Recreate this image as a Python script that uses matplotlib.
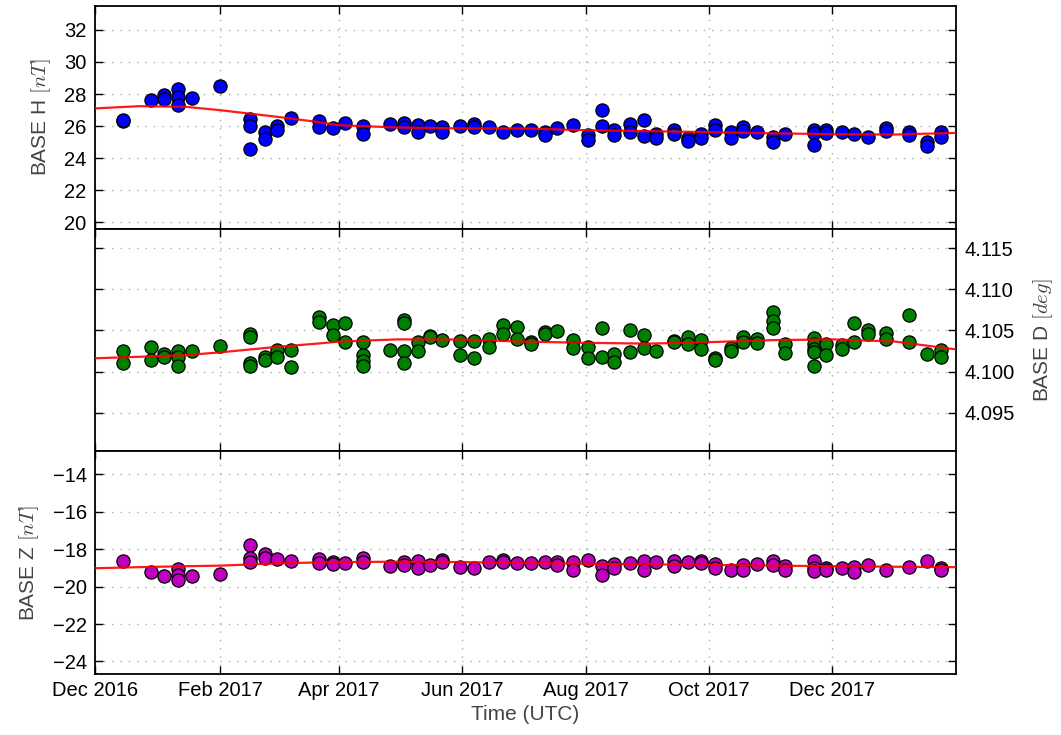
import numpy as np
import pandas as pd
import matplotlib
matplotlib.use("Agg")
import matplotlib.pyplot as plt
import matplotlib.dates as mdates
from matplotlib.ticker import FuncFormatter

plt.rcParams['font.family'] = ['Liberation Sans', 'DejaVu Sans']
plt.rcParams['mathtext.fontset'] = 'cm'

# ---------------- data ----------------
h_dates = ["2016-12-15", "2016-12-15", "2016-12-29", "2017-01-04", "2017-01-04",
           "2017-01-11", "2017-01-11", "2017-01-11", "2017-01-18", "2017-02-01",
           "2017-02-16", "2017-02-16", "2017-02-16", "2017-02-23", "2017-02-23",
           "2017-03-01", "2017-03-01", "2017-03-08", "2017-03-22", "2017-03-22",
           "2017-03-29", "2017-04-04", "2017-04-13", "2017-04-13", "2017-04-26",
           "2017-05-03", "2017-05-03", "2017-05-10", "2017-05-10", "2017-05-16",
           "2017-05-22", "2017-05-22", "2017-05-31", "2017-06-07", "2017-06-07",
           "2017-06-14", "2017-06-21", "2017-06-28", "2017-07-05",
           "2017-07-12", "2017-07-12", "2017-07-18", "2017-07-26", "2017-08-02",
           "2017-08-02", "2017-08-09", "2017-08-09", "2017-08-15", "2017-08-15",
           "2017-08-23", "2017-08-23", "2017-08-30", "2017-08-30", "2017-09-05",
           "2017-09-05", "2017-09-14", "2017-09-14", "2017-09-21", "2017-09-21",
           "2017-09-27", "2017-09-27", "2017-10-04", "2017-10-04", "2017-10-12",
           "2017-10-12", "2017-10-18", "2017-10-18", "2017-10-25", "2017-11-02",
           "2017-11-02", "2017-11-08", "2017-11-22", "2017-11-22", "2017-11-22",
           "2017-11-28", "2017-11-28", "2017-12-06", "2017-12-12", "2017-12-19",
           "2017-12-28", "2017-12-28", "2018-01-08", "2018-01-08", "2018-01-17",
           "2018-01-17", "2018-01-24", "2018-01-24"]
h_vals = [26.33, 26.36, 27.62, 27.93, 27.66,
          28.29, 27.83, 27.31, 27.72, 28.50,
          26.47, 25.99, 24.55, 25.64, 25.22,
          25.99, 25.74, 26.53, 26.33, 25.95,
          25.85, 26.16, 25.99, 25.49, 26.12,
          26.20, 25.91, 26.05, 25.64, 25.99,
          25.95, 25.64, 25.99, 26.12, 25.95,
          25.91, 25.64, 25.78, 25.74,
          25.64, 25.43, 25.85, 26.05, 25.43,
          25.11, 26.99, 25.99, 25.74, 25.47,
          26.12, 25.64, 26.37, 25.37, 25.53,
          25.28, 25.74, 25.53, 25.28, 25.07,
          25.53, 25.26, 26.09, 25.74, 25.64,
          25.28, 25.95, 25.70, 25.64, 25.32,
          25.01, 25.53, 25.74, 25.57, 24.80,
          25.78, 25.57, 25.64, 25.49, 25.32,
          25.89, 25.70, 25.64, 25.43, 25.01,
          24.74, 25.64, 25.32]

d_dates = ["2016-12-15", "2016-12-15", "2016-12-29", "2016-12-29", "2017-01-04",
           "2017-01-04", "2017-01-11", "2017-01-11", "2017-01-11", "2017-01-18",
           "2017-02-01", "2017-02-16", "2017-02-16", "2017-02-16", "2017-02-16",
           "2017-02-23", "2017-02-23", "2017-03-01", "2017-03-01", "2017-03-08",
           "2017-03-08", "2017-03-22", "2017-03-22", "2017-03-29", "2017-03-29",
           "2017-04-04", "2017-04-04", "2017-04-13", "2017-04-13", "2017-04-13",
           "2017-04-13", "2017-04-26", "2017-05-03", "2017-05-03", "2017-05-03",
           "2017-05-03", "2017-05-10", "2017-05-10", "2017-05-16", "2017-05-16",
           "2017-05-22", "2017-05-31", "2017-05-31", "2017-06-07", "2017-06-07",
           "2017-06-14", "2017-06-14", "2017-06-21", "2017-06-21", "2017-06-28",
           "2017-06-28", "2017-07-05", "2017-07-05", "2017-07-12", "2017-07-12",
           "2017-07-18", "2017-07-26", "2017-07-26", "2017-08-02", "2017-08-02",
           "2017-08-09", "2017-08-09", "2017-08-15", "2017-08-15", "2017-08-23",
           "2017-08-23", "2017-08-30", "2017-08-30", "2017-09-05", "2017-09-14",
           "2017-09-14", "2017-09-21", "2017-09-21", "2017-09-27", "2017-09-27",
           "2017-10-04", "2017-10-04", "2017-10-12", "2017-10-12", "2017-10-18",
           "2017-10-18", "2017-10-25", "2017-10-25", "2017-11-02", "2017-11-02",
           "2017-11-02", "2017-11-08", "2017-11-08", "2017-11-22", "2017-11-22",
           "2017-11-22", "2017-11-22", "2017-11-22", "2017-11-28", "2017-11-28",
           "2017-12-06", "2017-12-06", "2017-12-12", "2017-12-12", "2017-12-19",
           "2017-12-19", "2017-12-28", "2017-12-28", "2018-01-08", "2018-01-08",
           "2018-01-17", "2018-01-24", "2018-01-24"]
d_vals = [4.10255, 4.10101, 4.10295, 4.10141, 4.10214,
          4.10182, 4.10255, 4.10174, 4.10073, 4.10255,
          4.10315, 4.10457, 4.10416, 4.10101, 4.10073,
          4.10182, 4.10141, 4.10263, 4.10182, 4.10263,
          4.10053, 4.10667, 4.10598, 4.10570, 4.10444,
          4.10586, 4.10356, 4.10356, 4.10206, 4.10125,
          4.10073, 4.10263, 4.10626, 4.10586, 4.10246,
          4.10101, 4.10356, 4.10246, 4.10436, 4.10416,
          4.10384, 4.10376, 4.10202, 4.10376, 4.10162,
          4.10396, 4.10303, 4.10566, 4.10457, 4.10537,
          4.10396, 4.10356, 4.10335, 4.10477, 4.10457,
          4.10489, 4.10384, 4.10287, 4.10295, 4.10162,
          4.10525, 4.10182, 4.10214, 4.10113, 4.10505,
          4.10234, 4.10448, 4.10287, 4.10255, 4.10376,
          4.10356, 4.10424, 4.10335, 4.10384, 4.10275,
          4.10162, 4.10141, 4.10287, 4.10246, 4.10424,
          4.10356, 4.10396, 4.10343, 4.10731, 4.10610,
          4.10529, 4.10335, 4.10226, 4.10408, 4.10335,
          4.10275, 4.10234, 4.10073, 4.10335, 4.10206,
          4.10327, 4.10275, 4.10586, 4.10356, 4.10505,
          4.10457, 4.10465, 4.10396, 4.10691, 4.10356,
          4.10214, 4.10263, 4.10182]

z_dates = ["2016-12-15", "2016-12-29", "2017-01-04", "2017-01-11", "2017-01-11",
           "2017-01-11", "2017-01-18", "2017-02-01", "2017-02-16", "2017-02-16",
           "2017-02-16", "2017-02-23", "2017-02-23", "2017-03-01", "2017-03-08",
           "2017-03-22", "2017-03-22", "2017-03-29", "2017-03-29", "2017-04-04",
           "2017-04-13", "2017-04-13", "2017-04-26", "2017-05-03", "2017-05-03",
           "2017-05-10", "2017-05-10", "2017-05-16", "2017-05-22", "2017-05-22",
           "2017-05-31", "2017-06-07", "2017-06-14", "2017-06-21", "2017-06-21",
           "2017-06-28", "2017-07-05", "2017-07-12", "2017-07-18", "2017-07-18",
           "2017-07-26", "2017-07-26", "2017-08-02", "2017-08-09", "2017-08-09",
           "2017-08-15", "2017-08-15", "2017-08-23", "2017-08-30", "2017-08-30",
           "2017-09-05", "2017-09-14", "2017-09-14", "2017-09-21", "2017-09-27",
           "2017-09-27", "2017-10-04", "2017-10-04", "2017-10-12", "2017-10-18",
           "2017-10-18", "2017-10-25", "2017-11-02", "2017-11-02", "2017-11-08",
           "2017-11-08", "2017-11-22", "2017-11-22", "2017-11-22", "2017-11-28",
           "2017-11-28", "2017-12-06", "2017-12-12", "2017-12-12", "2017-12-19",
           "2017-12-28", "2018-01-08", "2018-01-17", "2018-01-24", "2018-01-24"]
z_vals = [-18.63, -19.23, -19.42, -19.07, -19.37,
          -19.63, -19.42, -19.33, -17.79, -18.49,
          -18.70, -18.28, -18.46, -18.53, -18.63,
          -18.53, -18.75, -18.70, -18.81, -18.75,
          -18.46, -18.70, -18.88, -18.70, -18.84,
          -18.63, -18.98, -18.84, -18.58, -18.70,
          -18.93, -19.02, -18.70, -18.58, -18.70,
          -18.75, -18.75, -18.70, -18.70, -18.84,
          -18.70, -19.10, -18.58, -18.88, -19.37,
          -18.81, -19.02, -18.75, -18.63, -19.10,
          -18.70, -18.63, -18.88, -18.70, -18.63,
          -18.75, -18.81, -19.02, -19.10, -18.84,
          -19.10, -18.81, -18.63, -18.84, -18.88,
          -19.10, -18.63, -18.98, -19.16, -18.98,
          -19.10, -18.98, -18.93, -19.23, -18.84,
          -19.10, -18.93, -18.63, -18.98, -19.10]

# smooth fitted baseline (red curves), read at sample dates
fit_dates = ["2016-12-01", "2016-12-23", "2017-01-15", "2017-02-01", "2017-03-01",
             "2017-03-21", "2017-04-01", "2017-04-30", "2017-06-01", "2017-07-01",
             "2017-08-01", "2017-09-01", "2017-10-01", "2017-11-01", "2017-12-01",
             "2018-01-01", "2018-01-31"]
h_fit = [27.10, 27.24, 27.20, 26.99, 26.58, 26.26, 26.05, 25.91, 25.85, 25.85,
         25.74, 25.68, 25.62, 25.55, 25.49, 25.47, 25.57]
d_fit = [4.10162, 4.10180, 4.10200, 4.10234, 4.10300, 4.10340, 4.10365, 4.10392,
         4.10390, 4.10365, 4.10350, 4.10340, 4.10358, 4.10382, 4.10392, 4.10366,
         4.10272]
z_fit = [-19.02, -18.96, -18.91, -18.88, -18.76, -18.71, -18.69, -18.67, -18.69,
         -18.74, -18.78, -18.81, -18.84, -18.88, -18.91, -18.94, -18.96]

x_start, x_end = "2016-12-01", "2018-01-31 12:00"

# ---------------- plotting ----------------
fig = plt.figure(figsize=(10.61, 7.35), dpi=100)
axes = fig.subplots(3, 1, sharex=True)
fig.subplots_adjust(left=0.0895, right=0.901, top=0.992, bottom=0.083, hspace=0)


def make_fmt(fmt):
    return FuncFormatter(lambda v, p: (fmt % v).replace('-', '\u2212'))


panels = [
    (axes[0], h_dates, h_vals, h_fit, 'b', r'BASE H $[nT]$', (19.6, 33.5), [20, 22, 24, 26, 28, 30, 32], '%g', 'left'),
    (axes[1], d_dates, d_vals, d_fit, 'g', r'BASE D $[deg]$', (4.0903, 4.1174), [4.095, 4.100, 4.105, 4.110, 4.115], '%.3f', 'right'),
    (axes[2], z_dates, z_vals, z_fit, 'm', r'BASE Z $[nT]$', (-24.67, -12.77), [-24, -22, -20, -18, -16, -14], '%g', 'left'),
]

grid_color = '#99bb99'
for ax, dts, vals, fit, col, lab, ylim, yt, fmt, side in panels:
    ax.plot(pd.to_datetime(dts), vals, linestyle='none', marker='o', markersize=9.5,
            markerfacecolor=col, markeredgecolor='black', markeredgewidth=0.9, zorder=3)
    ax.plot(pd.to_datetime(fit_dates), fit, color='red', linewidth=1.6, alpha=0.9, zorder=4)
    ax.set_ylim(*ylim)
    ax.set_yticks(yt)
    ax.yaxis.set_major_formatter(make_fmt(fmt))
    ax.grid(True, color=grid_color, linestyle=(0, (1, 5)), linewidth=1.0)
    ax.set_axisbelow(True)
    ax.tick_params(axis='both', which='major', direction='in', length=6, width=1,
                   top=True, right=True, left=True, bottom=True, labelsize=14.5, pad=6)
    ax.set_ylabel(lab, fontsize=15, color='#444444', labelpad=8)
    if side == 'right':
        ax.yaxis.set_label_position('right')
        ax.tick_params(axis='y', labelleft=False, labelright=True)
        ax.set_ylabel(lab, fontsize=15, color='#444444', labelpad=12)
    for s in ax.spines.values():
        s.set_linewidth(1.3)

ax = axes[2]
ax.set_xlim(pd.Timestamp(x_start), pd.Timestamp(x_end))
ax.xaxis.set_major_locator(mdates.MonthLocator(bymonth=[2, 4, 6, 8, 10, 12]))
ax.xaxis.set_major_formatter(mdates.DateFormatter('%b %Y'))
ax.tick_params(axis='x', pad=5)
ax.set_xlabel('Time (UTC)', fontsize=15, color='#444444')

fig.savefig('out.png', dpi=100)
